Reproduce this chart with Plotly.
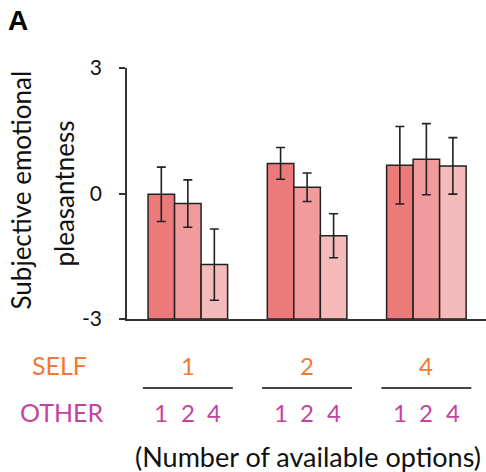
import plotly.graph_objects as go

# ---- data ----
self_levels = ["1", "2", "4"]
other_levels = ["1", "2", "4"]
mean_other1 = [-0.02, 0.72, 0.675]
mean_other2 = [-0.24, 0.15, 0.82]
mean_other4 = [-1.70, -1.01, 0.66]
err_other1 = [0.65, 0.38, 0.925]
err_other2 = [0.565, 0.34, 0.85]
err_other4 = [0.85, 0.525, 0.675]
y_ticks = [-3, 0, 3]
y_tick_labels = ["-3", "0", "3"]
y_min, y_max = -3, 3

means = [mean_other1, mean_other2, mean_other4]
errs = [err_other1, err_other2, err_other4]
colors = ["#EC7A7B", "#F19B9D", "#F5BABA"]

W, H = 486, 472
ML, MR, MT, MB = 127, 0, 68, 153
PW = W - ML - MR
PH = H - MT - MB

def px_x(px):
    return (px - ML) / PW

def px_y(py):
    return (H - MB - py) / PH

FONT = "Lato"
group_x = [1, 2, 3]
BARGAP = 0.333
bar_w = (1 - BARGAP) / 3

fig = go.Figure()
for k in range(3):
    fig.add_trace(go.Bar(
        x=group_x, y=[m - y_min for m in means[k]], base=y_min,
        marker=dict(color=colors[k], line=dict(color="#222222", width=1.5)),
        error_y=dict(type="data", array=errs[k], visible=True,
                     color="#222222", thickness=1.6, width=4.5),
        showlegend=False, hoverinfo="skip",
    ))

annotations = []
shapes = []
orange = "#F07A32"
magenta = "#C2449E"

def ann(x, y, text, size, color, xref="paper", angle=0, family=FONT, xanchor="center"):
    return dict(x=x, y=y, xref=xref, yref="paper", text=text, showarrow=False,
                xanchor=xanchor, yanchor="middle", textangle=angle,
                font=dict(family=family, size=size, color=color))

for i, g in enumerate(group_x):
    annotations.append(ann(g, px_y(365), self_levels[i], 24, orange, xref="x"))
    for k in range(3):
        annotations.append(ann(g + (k - 1) * bar_w, px_y(412), other_levels[k], 24,
                               magenta, xref="x"))
    shapes.append(dict(type="line", xref="x", yref="paper",
                       x0=g - 0.377, x1=g + 0.377, y0=px_y(388), y1=px_y(388),
                       line=dict(color="#444444", width=2)))

annotations += [
    ann(px_x(59), px_y(365), "SELF", 25, orange),
    ann(px_x(62), px_y(412), "OTHER", 25, magenta),
    ann(px_x(307.5), px_y(456), "(Number of available options)", 27, "#111111"),
    ann(px_x(20), px_y(190.5), "Subjective emotional", 26, "#111111", angle=-90),
    ann(px_x(63), px_y(193.5), "pleasantness", 26, "#111111", angle=-90),
    ann(px_x(6), px_y(21), "<b>A</b>", 28, "#000000", family="Liberation Sans",
        xanchor="left"),
]

fig.update_layout(
    width=W, height=H,
    margin=dict(l=ML, r=MR, t=MT, b=MB),
    paper_bgcolor="white", plot_bgcolor="white",
    barmode="group", bargap=BARGAP, bargroupgap=0,
    xaxis=dict(range=[0.49, 3.5], showline=True, linecolor="#333333", linewidth=1.5,
               showticklabels=False, ticks="", showgrid=False, zeroline=False,
               fixedrange=True),
    yaxis=dict(range=[y_min, y_max], tickvals=y_ticks, ticktext=y_tick_labels,
               ticks="outside", ticklen=6, tickcolor="#333333", tickwidth=1.5,
               showline=True, linecolor="#333333", linewidth=1.5,
               showgrid=False, zeroline=False, ticklabelstandoff=13,
               fixedrange=True,
               tickfont=dict(family=FONT, size=21, color="#111111")),
    annotations=annotations,
    shapes=shapes,
    font=dict(family=FONT),
)

fig.write_html("out.html", config={"displayModeBar": False},
               post_script="document.body.style.margin='0';")
